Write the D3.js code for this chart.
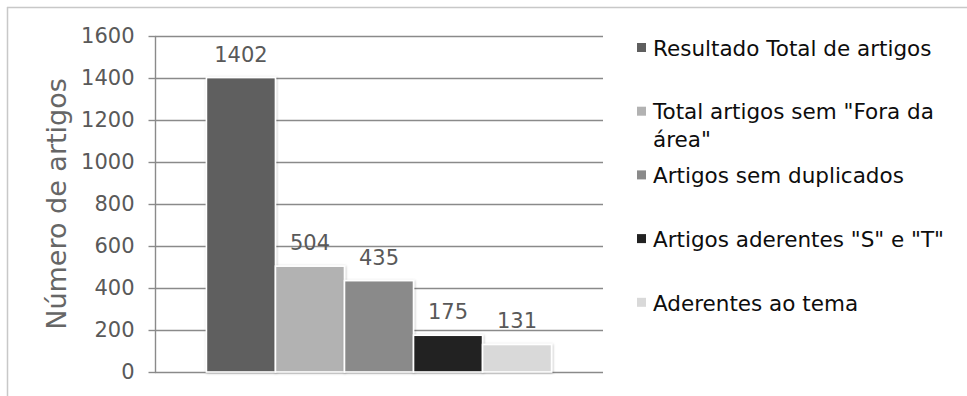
<!DOCTYPE html>
<html>
<head>
<meta charset="utf-8">
<script src="https://cdn.jsdelivr.net/npm/d3@7"></script>
<style>
  html, body { margin: 0; padding: 0; background: #fff; }
  svg { display: block; font-family: Verdana, "DejaVu Sans", sans-serif; }
</style>
</head>
<body>
<svg id="chart" width="967" height="396"></svg>
<script>
// Article counts at each screening stage
const seriesNames = [
  "Resultado Total de artigos",
  "Total artigos sem \"Fora da área\"",
  "Artigos sem duplicados",
  "Artigos aderentes \"S\" e \"T\"",
  "Aderentes ao tema"
];
const legendLines = [
  ["Resultado Total de artigos"],
  ["Total artigos sem \"Fora da", "área\""],
  ["Artigos sem duplicados"],
  ["Artigos aderentes \"S\" e \"T\""],
  ["Aderentes ao tema"]
];
const seriesValues = [1402, 504, 435, 175, 131];
const seriesColors = ["#5f5f5f", "#b2b2b2", "#8a8a8a", "#222222", "#d9d9d9"];
const yTickValues = [0, 200, 400, 600, 800, 1000, 1200, 1400, 1600];
const yTitle = "Número de artigos";

const svg = d3.select("#chart");
const W = 967, H = 396;
const plot = { left: 155, right: 603, top: 36, bottom: 372 };

// Soft shadow under the bars
const defs = svg.append("defs");
const f = defs.append("filter").attr("id", "barShadow")
  .attr("x", "-10%").attr("y", "-10%").attr("width", "120%").attr("height", "120%");
f.append("feDropShadow").attr("dx", 0.6).attr("dy", 0.6)
  .attr("stdDeviation", 1.2).attr("flood-color", "#000").attr("flood-opacity", 0.28);

// Chart frame (top and left edges)
svg.append("line").attr("x1", 7).attr("x2", W).attr("y1", 7.5).attr("y2", 7.5)
  .attr("stroke", "#c8c8c8").attr("stroke-width", 1.5);
svg.append("line").attr("x1", 7.5).attr("x2", 7.5).attr("y1", 7).attr("y2", H)
  .attr("stroke", "#c8c8c8").attr("stroke-width", 1.5);

const y = d3.scaleLinear().domain([0, 1600]).range([plot.bottom, plot.top]);

// Single category band holding all five series side by side
const x0 = d3.scaleBand().domain(["total"]).range([plot.left, plot.right])
  .paddingInner(0).paddingOuter(0.149);
const x1 = d3.scaleBand().domain(seriesNames).range([0, x0.bandwidth()]).padding(0);

// Gridlines
svg.append("g").selectAll("line").data(yTickValues).join("line")
  .attr("x1", plot.left).attr("x2", plot.right)
  .attr("y1", d => Math.round(y(d)) + 0.5).attr("y2", d => Math.round(y(d)) + 0.5)
  .attr("stroke", "#8a8a8a").attr("stroke-width", 1.4);

// Y axis
const yAxis = d3.axisLeft(y).tickValues(yTickValues).tickSize(7).tickPadding(14)
  .tickFormat(d3.format("d"));
const ga = svg.append("g").attr("transform", `translate(${plot.left + 0.5},0)`).call(yAxis);
ga.select(".domain").attr("stroke", "#8a8a8a").attr("stroke-width", 1.4)
  .attr("d", `M0,${plot.top}V${plot.bottom}`);
ga.selectAll(".tick line").attr("stroke", "#8a8a8a").attr("stroke-width", 1.4);
ga.selectAll(".tick text").attr("fill", "#595959")
  .style("font-size", "21px").style("font-family", "Verdana, 'DejaVu Sans', sans-serif");

// Axis title
svg.append("text")
  .attr("transform", `translate(66,${(plot.top + plot.bottom) / 2}) rotate(-90)`)
  .attr("text-anchor", "middle")
  .attr("fill", "#666").style("font-size", "27px")
  .text(yTitle);

// Bars
const bars = svg.append("g").attr("transform", `translate(${x0("total")},0)`);
bars.selectAll("rect").data(seriesValues).join("rect")
  .attr("x", (d, i) => x1(seriesNames[i]))
  .attr("y", d => y(d))
  .attr("width", x1.bandwidth())
  .attr("height", d => y(0) - y(d))
  .attr("fill", (d, i) => seriesColors[i])
  .attr("stroke", "#fff").attr("stroke-width", 1.6)
  .attr("filter", "url(#barShadow)");

// Value labels
bars.selectAll("text").data(seriesValues).join("text")
  .attr("x", (d, i) => x1(seriesNames[i]) + x1.bandwidth() / 2)
  .attr("y", d => y(d) - 16)
  .attr("text-anchor", "middle")
  .attr("fill", "#595959").style("font-size", "21px")
  .text(d => d);

// Legend
const legendTop = 48, legendStep = 63.7, lineH = 28;
const lg = svg.append("g");
legendLines.forEach((lines, i) => {
  const cy = legendTop + i * legendStep;
  lg.append("rect").attr("x", 637).attr("y", cy - 5).attr("width", 9).attr("height", 9)
    .attr("fill", seriesColors[i]);
  const t = lg.append("text").attr("x", 653).attr("y", cy)
    .attr("fill", "#0d0d0d").style("font-size", "21.5px");
  lines.forEach((ln, j) => {
    t.append("tspan").attr("x", 653).attr("y", cy + j * lineH).attr("dy", "0.36em").text(ln);
  });
});
</script>
</body>
</html>
